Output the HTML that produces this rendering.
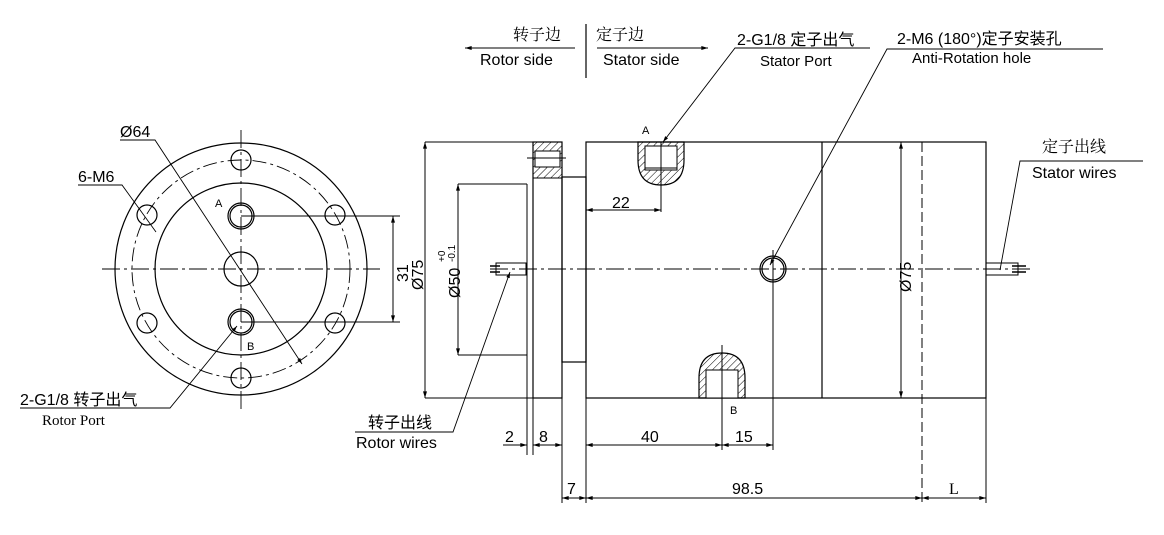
<!DOCTYPE html>
<html><head><meta charset="utf-8"><style>
html,body{margin:0;padding:0;background:#fff}
svg{display:block}
text{font-family:"Liberation Sans","Noto Sans CJK SC",sans-serif;fill:#000}
.s{font-family:"Liberation Serif","Noto Serif CJK SC",serif}
</style></head><body>
<svg width="1164" height="535" viewBox="0 0 1164 535" xmlns="http://www.w3.org/2000/svg">
<defs>
<marker id="a" viewBox="0 0 10 6" refX="10" refY="3" markerWidth="8" markerHeight="4" orient="auto-start-reverse"><path d="M0,0 L10,3 L0,6z" fill="#000"/></marker>
<pattern id="h" width="5" height="5" patternUnits="userSpaceOnUse" patternTransform="rotate(45)"><line x1="0" y1="0" x2="0" y2="5" stroke="#000" stroke-width="1"/></pattern>
</defs>
<g fill="none" stroke="#000" stroke-width="1.2">
<circle cx="241" cy="269" r="126"/>
<circle cx="241" cy="269" r="109" stroke-dasharray="14,4,3,4" stroke-width="0.9"/>
<circle cx="241" cy="269" r="86"/>
<circle cx="241" cy="269" r="17"/>
<circle cx="241" cy="216" r="13"/><circle cx="241" cy="216" r="11"/>
<circle cx="241" cy="322" r="13"/><circle cx="241" cy="322" r="11"/>
<g>
<circle cx="241" cy="160" r="10"/><circle cx="241" cy="378" r="10"/>
<circle cx="147" cy="215" r="10"/><circle cx="335" cy="215" r="10"/>
<circle cx="147" cy="323" r="10"/><circle cx="335" cy="323" r="10"/>
</g>
<line x1="241" y1="130" x2="241" y2="410" stroke-dasharray="18,4,3,4" stroke-width="0.9"/>
<line x1="102" y1="269" x2="380" y2="269" stroke-dasharray="18,4,3,4" stroke-width="0.9"/>
<line x1="241" y1="216" x2="400" y2="216" stroke-width="1"/>
<line x1="241" y1="322" x2="400" y2="322" stroke-width="1"/>
<line x1="393" y1="216" x2="393" y2="322" stroke-width="1" marker-start="url(#a)" marker-end="url(#a)"/>
<polyline points="120,140 155,140 302,364" stroke-width="0.9" marker-end="url(#a)"/>
<polyline points="78,185 122,185 156,232" stroke-width="0.9"/>
<polyline points="20,408 170,408 237,326" stroke-width="0.9" marker-end="url(#a)"/>
<line x1="425" y1="142" x2="425" y2="398" stroke-width="1" marker-start="url(#a)" marker-end="url(#a)"/>
<line x1="425" y1="142" x2="533" y2="142" stroke-width="1"/>
<line x1="425" y1="398" x2="533" y2="398" stroke-width="1"/>
<rect x="533" y="142" width="29" height="256"/>
<rect x="533" y="142" width="29" height="36" fill="url(#h)" stroke-width="1"/>
<rect x="535" y="151" width="25" height="16" fill="#fff" stroke-width="1"/>
<line x1="527" y1="158" x2="566" y2="158" stroke-width="0.9"/>
<line x1="527" y1="184" x2="527" y2="455" stroke-width="1"/>
<line x1="533" y1="398" x2="533" y2="455" stroke-width="1"/>
<line x1="562" y1="398" x2="562" y2="503" stroke-width="1"/>
<rect x="562" y="177" width="24" height="185"/>
<line x1="458" y1="184" x2="458" y2="355" stroke-width="1" marker-start="url(#a)" marker-end="url(#a)"/>
<line x1="458" y1="184" x2="527" y2="184" stroke-width="1"/>
<line x1="458" y1="355" x2="527" y2="355" stroke-width="1"/>
<rect x="586" y="142" width="400" height="256"/>
<line x1="822" y1="142" x2="822" y2="398"/>
<line x1="922" y1="142" x2="922" y2="503" stroke-dasharray="10,4" stroke-width="1"/>
<line x1="901" y1="142" x2="901" y2="398" stroke-width="1" marker-start="url(#a)" marker-end="url(#a)"/>
<line x1="586" y1="398" x2="586" y2="503" stroke-width="1"/>
<line x1="986" y1="398" x2="986" y2="503" stroke-width="1"/>
<path d="M638,142 L638,160 Q638,185 661,185 Q684,185 684,160 L684,142 Z" fill="url(#h)"/>
<rect x="645" y="146" width="32" height="24" fill="#fff" stroke-width="1"/>
<line x1="645" y1="168" x2="677" y2="168" stroke-width="1"/>
<line x1="661" y1="142" x2="661" y2="212" stroke-width="1"/>
<line x1="586" y1="210" x2="661" y2="210" stroke-width="1" marker-start="url(#a)" marker-end="url(#a)"/>
<path d="M699,398 L699,378 Q699,353 722,353 Q745,353 745,378 L745,398 Z" fill="url(#h)"/>
<rect x="706" y="370" width="32" height="28" fill="#fff" stroke-width="1"/>
<line x1="722" y1="345" x2="722" y2="450" stroke-width="1"/>
<circle cx="773" cy="269" r="13"/><circle cx="773" cy="269" r="11"/>
<line x1="773" y1="250" x2="773" y2="450" stroke-width="1"/>
<line x1="490" y1="269" x2="1030" y2="269" stroke-dasharray="18,4,3,4" stroke-width="1"/>
<rect x="496" y="263" width="30" height="12" stroke-width="1"/>
<line x1="490" y1="266" x2="500" y2="266" stroke-width="1.5"/><line x1="490" y1="272" x2="500" y2="272" stroke-width="1.5"/>
<rect x="986" y="263" width="32" height="12" stroke-width="1"/>
<line x1="1012" y1="266" x2="1026" y2="266" stroke-width="1.5"/><line x1="1012" y1="272" x2="1026" y2="272" stroke-width="1.5"/>
<polyline points="355,432 453,432 510,272" stroke-width="0.9" marker-end="url(#a)"/>
<polyline points="1143,161 1020,161 1000,270" stroke-width="0.9"/>
<polyline points="870,48 735,48 663,142" stroke-width="0.9" marker-end="url(#a)"/>
<polyline points="1103,49 887,49 770,265" stroke-width="0.9" marker-end="url(#a)"/>
<line x1="465" y1="48" x2="575" y2="48" stroke-width="1" marker-start="url(#a)"/>
<line x1="597" y1="48" x2="708" y2="48" stroke-width="1" marker-end="url(#a)"/>
<line x1="586" y1="24" x2="586" y2="78" stroke-width="1.2"/>
<line x1="503" y1="445" x2="527" y2="445" stroke-width="1" marker-end="url(#a)"/>
<line x1="533" y1="445" x2="562" y2="445" stroke-width="1" marker-start="url(#a)" marker-end="url(#a)"/>
<line x1="586" y1="445" x2="722" y2="445" stroke-width="1" marker-start="url(#a)" marker-end="url(#a)"/>
<line x1="722" y1="445" x2="773" y2="445" stroke-width="1" marker-start="url(#a)" marker-end="url(#a)"/>
<line x1="562" y1="498" x2="586" y2="498" stroke-width="1" marker-start="url(#a)" marker-end="url(#a)"/>
<line x1="586" y1="498" x2="922" y2="498" stroke-width="1" marker-start="url(#a)" marker-end="url(#a)"/>
<line x1="922" y1="498" x2="986" y2="498" stroke-width="1" marker-start="url(#a)" marker-end="url(#a)"/>
</g>
<g font-size="16">
<text x="120" y="137">Ø64</text>
<text x="78" y="182">6-M6</text>
<text x="215" y="207" font-size="11">A</text>
<text x="247" y="350" font-size="11">B</text>
<text x="20" y="405">2-G1/8 转子出气</text>
<text x="42" y="425" class="s" font-size="15">Rotor Port</text>
<text transform="translate(408,282) rotate(-90)">31</text>
<text transform="translate(423,290) rotate(-90)">Ø75</text>
<text transform="translate(460,298) rotate(-90)">Ø50</text>
<text transform="translate(455,262) rotate(-90)" font-size="10">-0.1</text>
<text transform="translate(445,262) rotate(-90)" font-size="10">+0</text>
<text transform="translate(911,292) rotate(-90)">Ø75</text>
<text x="642" y="134" font-size="11">A</text>
<text x="730" y="414" font-size="11">B</text>
<text x="612" y="208">22</text>
<text x="505" y="442">2</text>
<text x="539" y="442">8</text>
<text x="641" y="442">40</text>
<text x="735" y="442">15</text>
<text x="567" y="494">7</text>
<text x="732" y="494">98.5</text>
<text x="949" y="494" class="s">L</text>
<text x="368" y="428">转子出线</text>
<text x="356" y="448">Rotor wires</text>
<text x="1042" y="152" class="s">定子出线</text>
<text x="1032" y="178">Stator wires</text>
<text x="513" y="40" class="s">转子边</text>
<text x="480" y="65">Rotor side</text>
<text x="596" y="40" class="s">定子边</text>
<text x="603" y="65">Stator side</text>
<text x="737" y="45">2-G1/8 定子出气</text>
<text x="760" y="66" font-size="15">Stator Port</text>
<text x="897" y="44">2-M6 (180°)定子安装孔</text>
<text x="912" y="63" font-size="15">Anti-Rotation hole</text>
</g>
</svg>
</body></html>
